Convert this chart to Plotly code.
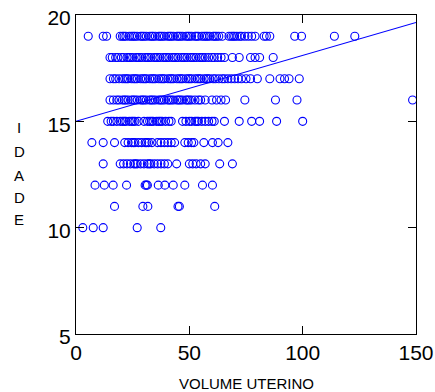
import plotly.graph_objects as go

# ---- data ----
row19 = [5.4, 12, 13.5, 19.5, 20.5, 22, 23.5, 24.5, 26, 27, 28.5, 30, 31, 32.5, 34, 35, 36.5, 38, 39,
         40.5, 42, 43, 44.5, 46, 47, 48.5, 50, 51, 52.5, 54, 55.5, 56.5, 58, 59, 60.5, 62, 63, 64.5,
         67.5, 68.5, 70, 71, 73, 74.5, 76, 77.5, 79, 83, 84, 85.5, 96.5, 99.5, 114, 123,
         21.2, 25.3, 29.2, 33.4, 37.2, 41.3, 45.2, 49.3, 53.2, 57.3, 61.2, 69.3, 72.2]
row18 = [15, 16, 17.5, 18.5, 20, 21, 22.5, 24, 25, 26.5, 28, 29, 30.5, 32, 33, 34.5, 36, 37, 38.5,
         40, 41, 42.5, 44, 45, 46.5, 48, 49, 50.5, 52, 53, 54.5, 56, 57, 58.5, 60, 61, 62.5, 64,
         65.5, 69, 72, 77, 79, 81, 87,
         23.3, 27.2, 31.3, 35.2, 39.3, 43.2, 47.3, 51.2, 55.3]
row17 = [15, 16.5, 17.5, 19, 20.5, 21.5, 23, 24.5, 25.5, 27, 28.5, 29.5, 31, 32.5, 33.5, 35, 36.5,
         37.5, 39, 40.5, 41.5, 43, 44.5, 45.5, 47, 48.5, 49.5, 51, 52.5, 53.5, 55, 56.5, 57.5, 59,
         60.5, 61.5, 63, 64.5, 65.5, 67, 68.5, 70, 71.5, 73, 75, 77, 80, 85.5, 90, 92, 94, 98.5,
         22.3, 26.2, 30.3, 34.2, 38.3, 42.2, 46.3, 50.2, 54.3, 58.2]
row16 = [15, 16.5, 18, 19, 20.5, 22, 23, 24.5, 26, 27, 28.5, 30, 31, 32.5, 34, 35, 36.5, 38, 39,
         40.5, 42, 43, 44.5, 46, 47, 48.5, 50, 51, 52.5, 54, 55, 57, 60, 62, 64, 66, 74.5, 88,
         97.5, 148.5,
         21.3, 25.2, 29.3, 33.2, 37.3, 41.2, 45.3, 49.2]
row15 = [14, 15.5, 16.5, 18, 19.5, 20.5, 22, 23.5, 24.5, 26, 27.5, 30, 31.5, 32.5, 34, 35.5, 36.5,
         38, 39.5, 41, 42, 47, 48.5, 50, 51, 52.5, 54, 55.5, 57, 58.5, 60, 61, 65.5, 72, 77.5, 81,
         88.5, 100,
         21.3, 25.2, 33.3, 37.2, 53.3]
row14 = [7, 12, 17, 21.5, 23, 24.5, 26, 27.5, 29, 30.5, 32, 33.5, 36, 37.5, 39, 40.5, 42, 43.5,
         48, 49.5, 51, 52, 56.4, 60.2, 62.7, 67,
         25.3, 31.2]
row13 = [12, 19.5, 21, 22.5, 24, 25.5, 27, 28.5, 30, 31.5, 33, 34.5, 36, 37.5, 39, 40.5, 44.4,
         50, 51.5, 53, 55, 57, 63.4, 69,
         26.2, 32.3]
row12 = [8.4, 12.5, 16.4, 22.3, 30.5, 31, 31.5, 36.3, 39.2, 42.9, 48, 55.8, 60.2]
row11 = [17, 29.5, 31.7, 45, 45.6, 61.2]
row10 = [3, 7.6, 12, 27, 37.4]

ages = [19, 18, 17, 16, 15, 14, 13, 12, 11, 10]
rows = [row19, row18, row17, row16, row15, row14, row13, row12, row11, row10]

# fitted line
line_intercept = 15.0
line_slope = 0.031
line_x = [0, 150]

x_ticks = [0, 50, 100, 150]
y_ticks = [5, 10, 15, 20]
x_title = "VOLUME UTERINO"
y_title_letters = ["I", "D", "A", "D", "E"]

# ---- build ----
xs, ys = [], []
for age, r in zip(ages, rows):
    xs += r
    ys += [age] * len(r)

BLUE = "#0000FF"
FONT = "Liberation Sans, Arial, sans-serif"

fig = go.Figure()
fig.add_trace(go.Scatter(
    x=xs, y=ys, mode="markers",
    marker=dict(symbol="circle-open", size=8, color=BLUE, line=dict(width=1.1, color=BLUE)),
    hoverinfo="skip", showlegend=False))
fig.add_trace(go.Scatter(
    x=line_x, y=[line_intercept + line_slope * v for v in line_x], mode="lines",
    line=dict(color=BLUE, width=1.1), hoverinfo="skip", showlegend=False))

axis_common = dict(showgrid=False, zeroline=False, showline=True, linecolor="black", linewidth=1,
                   ticks="inside", ticklen=8, tickcolor="black", mirror="ticks", automargin=False,
                   tickfont=dict(family=FONT, size=21, color="black"))
fig.update_xaxes(range=[0, 150], tickvals=x_ticks, ticktext=[str(v) for v in x_ticks], **axis_common)
fig.update_yaxes(range=[5, 20], tickvals=y_ticks, ticktext=[str(v) for v in y_ticks],
                 ticklabelshift=3, **axis_common)

ann = [dict(text=x_title, xref="paper", yref="paper", x=0.5, y=-0.155, xanchor="center",
            yanchor="middle", showarrow=False, font=dict(family=FONT, size=15, color="black"))]
letter_y = [0.646, 0.571, 0.498, 0.429, 0.360]
for L, yy in zip(y_title_letters, letter_y):
    ann.append(dict(text=L, xref="paper", yref="paper", x=-0.167, y=yy, xanchor="center",
                    yanchor="middle", showarrow=False, font=dict(family=FONT, size=15, color="black")))

fig.update_layout(width=435, height=392, margin=dict(l=76, r=19, t=15, b=58, autoexpand=False),
                  paper_bgcolor="white", plot_bgcolor="white", annotations=ann,
                  font=dict(family=FONT, color="black"))

# remove the default 8px page margin so the figure sits at the window's top-left corner
fig.write_html("out.html", config={"displayModeBar": False},
               post_script="document.body.style.margin='0px';")
